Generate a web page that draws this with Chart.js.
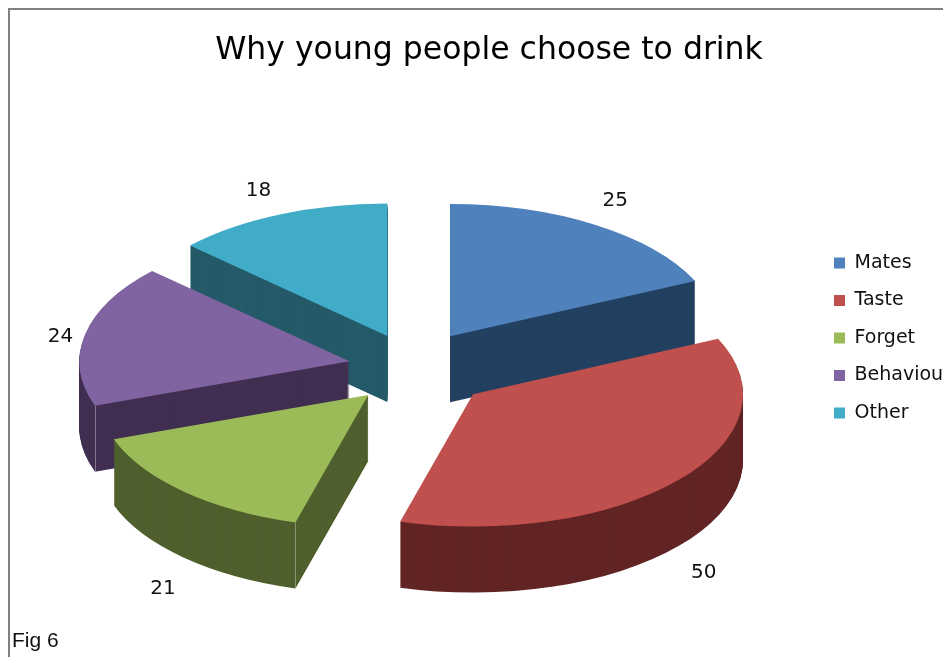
<!DOCTYPE html>
<html>
<head>
<meta charset="utf-8">
<title>Why young people choose to drink</title>
<script src="https://cdn.jsdelivr.net/npm/chart.js@4"></script>
<style>
  html, body { margin: 0; padding: 0; background: #fff; overflow: hidden; }
  #wrap { position: relative; width: 943px; height: 657px; }
  #frame { position: absolute; left: 8px; top: 8px; right: 0; bottom: 0; border-left: 2px solid #808080; border-top: 2px solid #808080; }
  #fig { position: absolute; left: 12px; top: 628px; font: 21px "Liberation Sans", sans-serif; color: #111; }
  canvas { position: absolute; left: 0; top: 0; }
</style>
</head>
<body>
<div id="wrap">
  <canvas id="chart" width="943" height="657"></canvas>
  <div id="frame"></div>
  <div id="fig">Fig 6</div>
</div>
<script>
const categories = ['Mates', 'Taste', 'Forget', 'Behaviour', 'Other'];
const values = [25, 50, 21, 24, 18];
const topColors = ['#4f81bd', '#c0504d', '#9bbb59', '#8064a2', '#41acc8'];
const sideColors = ['#234060', '#622424', '#4f5f2d', '#412f52', '#255a69'];

// the original is not a clean projection, so slices and labels get a small nudge
const sliceNudgeX = [0, 8, 0, 1, 0];
const sliceNudgeY = [-2, 7, 5, 2, 0];
const labelRadius = [325, 336, 339, 291, 326];
const labelNudgeX = [-10, -17, 26, -3, 1];
const labelNudgeY = [-3, 13, 11, 6, 1];

const RATIO = 0.49;    // vertical squash of the pie
const DEPTH = 66;      // height of the slices
const EXPLODE = 67;    // how far each slice moves out
const FONT = '"DejaVu Sans", sans-serif';

function midAngle(arc) {
  return (arc.startAngle + arc.endAngle) / 2;
}

const pie3d = {
  id: 'pie3d',
  afterLayout(chart) {
    // title and legend do not sit where chart.js would put them
    const title = chart.titleBlock;
    title.left = 8;
    title.right = 970;
    const legend = chart.legend;
    legend.left = 815.5;
    legend.right = 1100;
    legend.top = 235;
    legend.bottom = 657;
  },
  beforeDatasetsDraw(chart) {
    const ctx = chart.ctx;
    const arcs = chart.getDatasetMeta(0).data;

    const order = arcs.map((a, i) => i).sort((a, b) =>
      Math.sin(midAngle(arcs[a])) - Math.sin(midAngle(arcs[b])));

    order.forEach(i => {
      const arc = arcs[i];
      const mid = midAngle(arc);
      const dx = Math.cos(mid) * EXPLODE + sliceNudgeX[i];
      const dy = Math.sin(mid) * EXPLODE * RATIO + sliceNudgeY[i];

      const place = (down) => {
        ctx.translate(arc.x + dx, arc.y + dy + down);
        ctx.scale(1, RATIO);
        ctx.translate(-arc.x, -arc.y);
      };

      // side walls, stacked from the bottom up
      const opts = arc.options;
      arc.options = Object.assign({}, opts, { backgroundColor: sideColors[i], borderWidth: 0 });
      for (let d = DEPTH; d > 0; d--) {
        ctx.save();
        place(d);
        arc.draw(ctx);
        ctx.restore();
      }
      arc.options = opts;

      // thin seam where the flat wall meets the round one
      const sa = arc.startAngle;
      if (Math.cos(sa) < 0 && Math.sin(sa) > 0) {
        const sx = arc.x + dx + Math.cos(sa) * arc.outerRadius;
        const sy = arc.y + dy + Math.sin(sa) * arc.outerRadius * RATIO;
        ctx.save();
        ctx.strokeStyle = 'rgba(255,255,255,0.35)';
        ctx.lineWidth = 1;
        ctx.beginPath();
        ctx.moveTo(Math.round(sx) + 0.5, sy);
        ctx.lineTo(Math.round(sx) + 0.5, sy + DEPTH);
        ctx.stroke();
        ctx.restore();
      }

      ctx.save();
      place(0);
      arc.draw(ctx);
      ctx.restore();
    });

    // value labels
    ctx.save();
    ctx.font = '20px ' + FONT;
    ctx.fillStyle = '#111';
    ctx.textAlign = 'center';
    ctx.textBaseline = 'middle';
    arcs.forEach((arc, i) => {
      const mid = midAngle(arc);
      const x = arc.x + Math.cos(mid) * (EXPLODE + labelRadius[i]) + labelNudgeX[i];
      const lower = Math.sin(mid) > 0.3 ? DEPTH : 0;
      const y = arc.y + Math.sin(mid) * (EXPLODE + labelRadius[i]) * RATIO + lower + labelNudgeY[i];
      ctx.fillText(values[i], x, y);
    });
    ctx.restore();

    return false;
  }
};

new Chart(document.getElementById('chart'), {
  type: 'pie',
  data: {
    labels: categories,
    datasets: [{
      data: values,
      backgroundColor: topColors,
      borderWidth: 0
    }]
  },
  options: {
    responsive: false,
    animation: false,
    radius: 270,
    layout: { padding: { left: 0, right: 115, top: 0, bottom: 0 } },
    plugins: {
      title: {
        display: true,
        text: 'Why young people choose to drink',
        color: '#000',
        font: { family: FONT, size: 31.5, weight: 'normal' },
        padding: { top: 32, bottom: 5.2 }
      },
      legend: {
        position: 'chartArea',
        align: 'start',
        labels: {
          boxWidth: 11,
          boxHeight: 11,
          padding: 18.5,
          color: '#111',
          font: { family: FONT, size: 19 }
        }
      },
      tooltip: { enabled: false }
    }
  },
  plugins: [pie3d]
});
</script>
</body>
</html>
